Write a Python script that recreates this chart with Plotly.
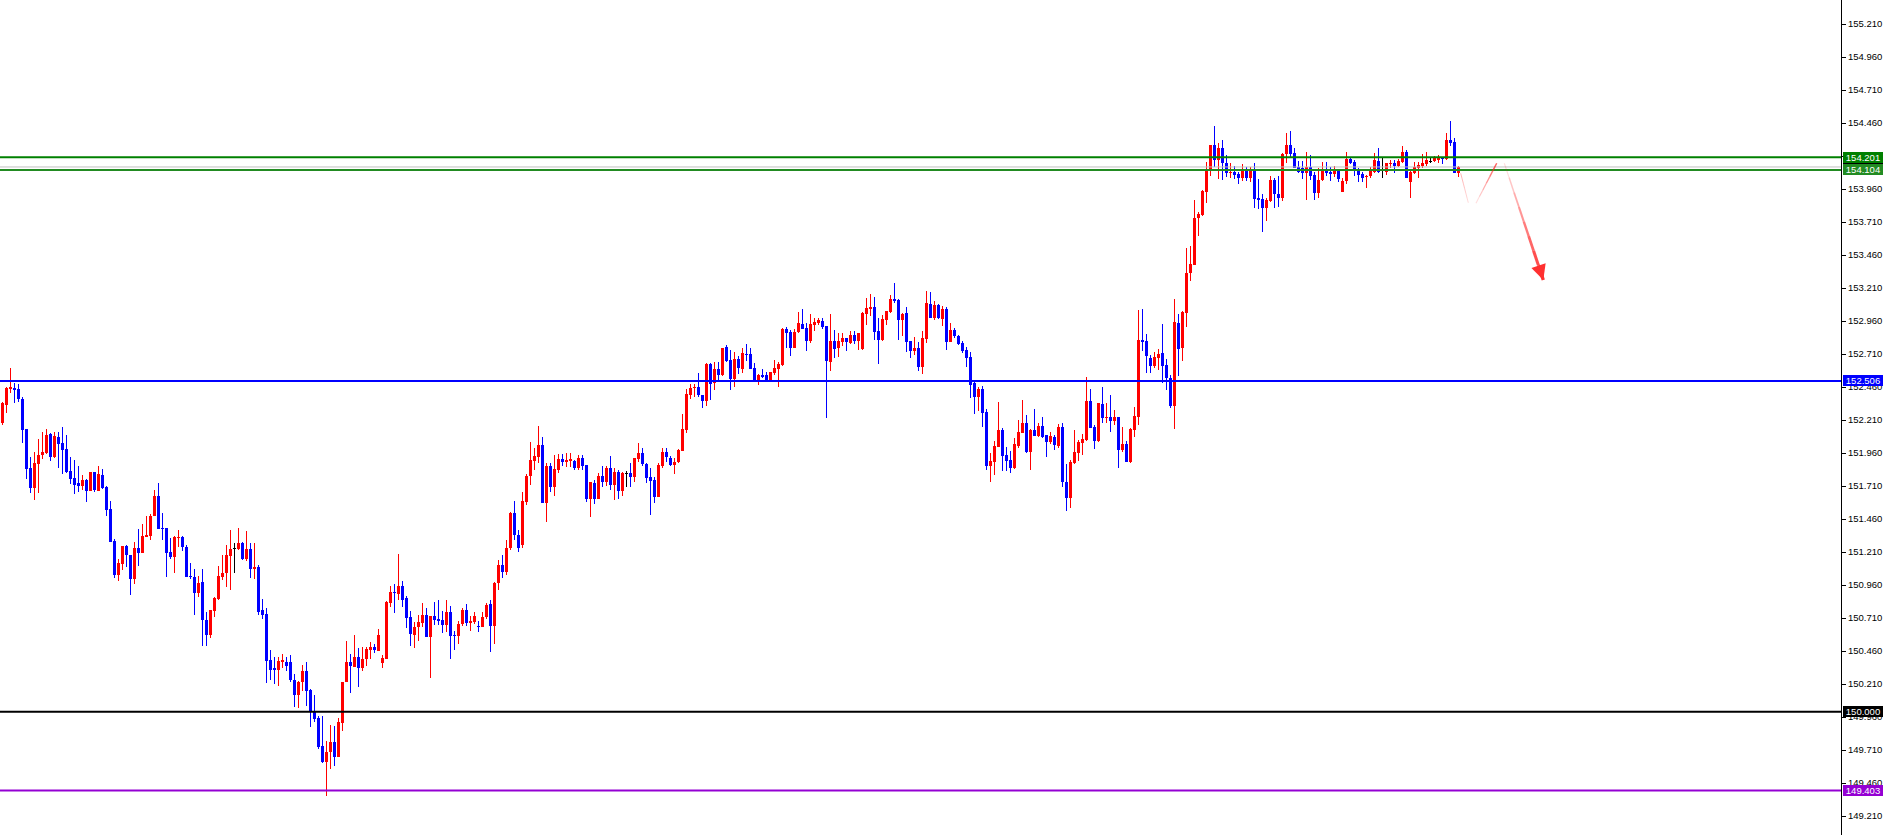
import plotly.graph_objects as go

# ---------------- data ----------------
opens = [152.187,152.324,152.445,152.452,152.445,152.369,152.142,151.846,151.695,151.877,
151.945,151.960,152.104,151.930,152.081,152.036,151.991,151.823,151.770,151.733,
151.710,151.756,151.672,151.816,151.672,151.793,151.703,151.536,151.294,151.036,
151.119,151.256,151.187,151.006,151.241,151.203,151.324,151.331,151.483,151.634,
151.392,151.392,151.210,151.172,151.316,151.324,151.248,151.028,151.021,150.900,
150.983,150.695,150.581,150.763,150.854,151.021,151.051,151.180,151.233,151.233,
151.278,151.157,151.233,151.082,151.097,150.771,150.741,150.392,150.331,150.316,
150.377,150.377,150.377,150.240,150.127,150.225,150.309,150.165,149.998,149.953,
149.741,149.619,149.695,149.771,149.657,149.915,150.225,150.377,150.339,150.415,
150.331,150.400,150.468,150.491,150.460,150.369,150.400,150.824,150.907,150.892,
150.953,150.862,150.718,150.581,150.642,150.672,150.733,150.566,150.725,150.703,
150.695,150.657,150.756,150.581,150.574,150.665,150.771,150.672,150.680,150.650,
150.642,150.718,150.816,150.650,150.975,151.112,151.059,151.241,151.506,151.339,
151.263,151.589,151.786,151.899,151.930,152.021,151.581,151.861,151.703,151.831,
151.915,151.892,151.899,151.899,151.846,151.922,151.869,151.612,151.733,151.612,
151.786,151.740,151.846,151.718,151.816,151.672,151.808,151.808,151.778,151.915,
151.960,151.877,151.778,151.756,151.627,151.861,151.968,151.922,151.869,151.892,
151.975,152.134,152.400,152.452,152.460,152.400,152.354,152.634,152.490,152.597,
152.551,152.763,152.665,152.521,152.672,152.597,152.710,152.710,152.604,152.513,
152.551,152.551,152.513,152.566,152.597,152.627,152.899,152.877,152.756,152.877,
152.937,152.907,152.809,152.930,152.945,152.960,152.922,152.650,152.809,152.756,
152.801,152.831,152.794,152.854,152.809,152.748,153.013,153.051,153.066,152.884,
152.816,152.968,153.028,153.127,153.119,152.968,153.021,152.809,152.733,152.756,
152.612,152.824,153.089,152.983,153.081,152.975,153.051,152.801,152.892,152.846,
152.794,152.741,152.688,152.490,152.384,152.445,152.271,151.861,151.892,152.006,
152.134,151.945,151.907,151.846,152.013,152.111,152.187,151.968,152.134,152.089,
152.165,152.096,152.043,152.081,152.013,152.157,151.740,151.619,151.884,151.960,
152.036,152.059,152.354,152.157,152.051,152.331,152.225,152.233,152.203,152.233,
151.983,152.028,151.892,152.134,152.233,152.816,152.809,152.680,152.619,152.680,
152.718,152.627,152.528,152.316,152.945,152.756,153.021,153.324,153.384,153.740,
153.763,153.937,154.104,154.293,154.180,154.271,154.157,154.081,154.089,154.074,
154.043,154.104,154.043,154.104,153.892,153.884,153.816,153.869,154.028,153.922,
153.892,154.225,154.293,154.233,154.127,154.119,154.081,154.127,154.066,153.930,
154.028,154.104,154.089,154.074,154.097,153.937,154.021,154.187,154.165,154.104,
154.074,154.051,154.059,154.089,154.172,154.097,154.089,154.149,154.157,154.134,
154.165,154.241,154.013,154.081,154.119,154.134,154.149,154.172,154.172,154.180,
154.195,154.187,154.331,154.316,154.081]

highs = [152.347,152.460,152.604,152.490,152.483,152.384,152.142,151.930,151.968,152.066,
152.119,152.142,152.111,152.119,152.119,152.157,152.096,151.930,151.907,151.861,
151.793,151.763,151.816,151.816,151.861,151.839,151.710,151.596,151.309,151.157,
151.256,151.263,151.187,151.286,151.385,151.422,151.483,151.498,151.680,151.733,
151.506,151.392,151.316,151.331,151.377,151.331,151.263,151.127,151.082,151.028,
151.082,150.756,150.771,150.869,151.104,151.187,151.263,151.377,151.278,151.392,
151.286,151.369,151.278,151.278,151.112,150.854,150.786,150.468,150.415,150.415,
150.438,150.415,150.430,150.286,150.233,150.354,150.377,150.172,150.127,149.968,
149.968,149.778,149.899,149.892,149.953,150.225,150.536,150.438,150.581,150.483,
150.491,150.491,150.528,150.513,150.627,150.430,150.839,150.953,150.968,151.195,
150.990,150.877,150.763,150.680,150.733,150.824,150.786,150.725,150.831,150.847,
150.763,150.847,150.801,150.612,150.688,150.786,150.816,150.725,150.756,150.688,
150.756,150.824,150.847,150.983,151.150,151.187,151.301,151.513,151.596,151.377,
151.665,151.801,152.043,151.998,152.165,152.081,151.884,151.884,151.945,151.953,
151.953,151.960,151.960,151.907,151.945,151.945,151.869,151.740,151.756,151.808,
151.861,151.861,151.937,151.846,151.831,151.816,151.823,151.884,151.922,152.036,
151.998,151.884,151.846,151.778,151.884,151.998,151.998,151.937,151.922,151.991,
152.256,152.445,152.483,152.483,152.566,152.400,152.642,152.642,152.650,152.650,
152.756,152.778,152.741,152.725,152.695,152.756,152.786,152.756,152.642,152.559,
152.597,152.574,152.574,152.665,152.650,152.907,152.915,152.892,152.899,153.028,
153.051,152.945,153.013,152.983,152.983,152.983,152.922,153.013,152.892,152.869,
152.869,152.831,152.884,152.884,152.869,153.028,153.134,153.165,153.142,152.983,
153.006,153.036,153.157,153.248,153.127,153.021,153.066,152.809,152.839,152.801,
152.884,153.187,153.180,153.112,153.089,153.074,153.066,152.945,152.907,152.854,
152.809,152.763,152.725,152.498,152.460,152.468,152.293,151.960,152.051,152.347,
152.149,152.006,151.975,152.074,152.210,152.362,152.248,152.142,152.293,152.187,
152.233,152.096,152.119,152.096,152.180,152.187,151.877,151.907,152.134,152.059,
152.104,152.536,152.445,152.172,152.339,152.460,152.339,152.400,152.286,152.233,
152.157,152.051,152.149,152.309,153.044,153.051,152.862,152.703,152.725,152.748,
152.937,152.672,152.551,153.127,153.013,153.036,153.513,153.528,153.877,153.786,
153.953,154.165,154.293,154.437,154.309,154.331,154.218,154.157,154.134,154.089,
154.149,154.127,154.127,154.157,154.036,153.922,153.892,154.059,154.043,154.059,
154.233,154.384,154.399,154.271,154.172,154.172,154.241,154.218,154.089,154.119,
154.165,154.165,154.127,154.134,154.104,154.043,154.241,154.203,154.180,154.119,
154.089,154.066,154.127,154.233,154.271,154.195,154.157,154.180,154.180,154.187,
154.286,154.256,154.112,154.165,154.165,154.225,154.241,154.195,154.210,154.218,
154.203,154.384,154.475,154.346,154.134]

lows = [152.172,152.263,152.414,152.339,152.347,152.036,151.763,151.657,151.604,151.657,
151.915,151.953,151.899,151.922,151.846,151.801,151.808,151.725,151.650,151.665,
151.680,151.589,151.672,151.665,151.672,151.687,151.483,151.286,151.013,150.990,
151.074,151.097,150.884,150.968,151.104,151.203,151.324,151.301,151.483,151.385,
151.301,151.021,151.157,151.051,151.248,151.218,151.021,151.006,150.733,150.869,
150.498,150.498,150.559,150.718,150.847,150.998,150.945,150.922,151.051,151.225,
151.150,151.142,151.013,151.006,150.733,150.703,150.218,150.240,150.210,150.195,
150.331,150.309,150.225,150.036,150.028,150.157,150.043,149.884,149.922,149.718,
149.612,149.362,149.566,149.589,149.657,149.854,150.225,150.142,150.339,150.187,
150.309,150.347,150.400,150.445,150.460,150.331,150.400,150.793,150.748,150.847,
150.793,150.634,150.498,150.483,150.536,150.642,150.566,150.256,150.657,150.657,
150.597,150.604,150.400,150.468,150.513,150.650,150.650,150.612,150.665,150.604,
150.642,150.703,150.453,150.513,150.922,151.013,151.036,151.225,151.301,151.210,
151.241,151.566,151.718,151.831,151.884,151.581,151.437,151.665,151.634,151.808,
151.861,151.854,151.854,151.831,151.831,151.831,151.589,151.475,151.574,151.612,
151.703,151.710,151.680,151.604,151.612,151.634,151.703,151.703,151.740,151.892,
151.861,151.733,151.490,151.581,151.627,151.846,151.892,151.861,151.801,151.884,
151.975,152.111,152.369,152.384,152.384,152.301,152.316,152.362,152.437,152.513,
152.543,152.650,152.437,152.460,152.559,152.566,152.657,152.597,152.506,152.475,
152.528,152.498,152.498,152.551,152.460,152.619,152.756,152.695,152.756,152.869,
152.899,152.733,152.794,152.884,152.930,152.899,152.225,152.581,152.680,152.688,
152.771,152.733,152.786,152.786,152.741,152.741,152.930,152.998,152.816,152.634,
152.809,152.930,153.021,153.097,152.816,152.846,152.725,152.680,152.703,152.581,
152.559,152.794,152.983,152.968,152.975,152.922,152.741,152.801,152.831,152.778,
152.718,152.612,152.377,152.256,152.278,152.157,151.831,151.740,151.793,152.006,
151.823,151.823,151.808,151.839,151.998,152.111,151.960,151.831,152.089,152.081,
152.074,151.930,152.028,151.983,151.998,151.703,151.521,151.543,151.877,151.899,
151.945,152.051,152.149,151.991,152.043,152.187,152.187,152.119,152.172,151.846,
151.968,151.892,151.884,152.081,152.172,152.733,152.566,152.566,152.604,152.589,
152.490,152.437,152.301,152.142,152.543,152.657,152.915,153.263,153.384,153.604,
153.756,153.854,154.059,154.127,154.036,154.028,154.051,154.043,154.036,153.998,
154.021,154.021,154.013,153.816,153.809,153.634,153.718,153.862,153.816,153.824,
153.869,154.157,154.203,154.119,154.081,154.036,153.877,154.028,153.877,153.892,
154.021,154.059,154.021,154.051,154.013,153.937,153.998,154.149,154.059,154.013,
154.013,153.968,154.043,154.081,154.081,154.043,154.066,154.119,154.081,154.127,
154.157,154.043,153.892,154.074,154.043,154.119,154.134,154.157,154.165,154.157,
154.149,154.180,154.286,154.081,154.051]

closes = [152.339,152.452,152.460,152.437,152.369,152.134,151.839,151.695,151.884,151.945,
151.968,152.096,151.930,152.089,152.028,151.983,151.816,151.763,151.718,151.710,
151.756,151.672,151.816,151.680,151.801,151.695,151.528,151.286,151.036,151.127,
151.256,151.187,151.006,151.241,151.203,151.331,151.339,151.483,151.634,151.385,
151.385,151.203,151.172,151.324,151.324,151.248,151.021,151.021,150.900,150.975,
150.695,150.581,150.771,150.862,151.028,151.051,151.187,151.233,151.233,151.278,
151.157,151.233,151.082,151.097,150.756,150.733,150.384,150.316,150.316,150.384,
150.392,150.347,150.240,150.127,150.225,150.309,150.157,149.998,149.945,149.733,
149.619,149.695,149.771,149.657,149.922,150.225,150.377,150.347,150.415,150.331,
150.400,150.475,150.491,150.468,150.581,150.407,150.831,150.907,150.900,150.953,
150.847,150.710,150.589,150.642,150.680,150.733,150.566,150.725,150.695,150.688,
150.657,150.756,150.574,150.574,150.665,150.771,150.672,150.688,150.725,150.642,
150.718,150.809,150.650,150.975,151.112,151.059,151.241,151.506,151.339,151.241,
151.596,151.786,151.907,151.937,152.021,151.581,151.861,151.703,151.839,151.915,
151.892,151.907,151.915,151.846,151.922,151.861,151.612,151.740,151.612,151.786,
151.740,151.846,151.718,151.816,151.672,151.808,151.808,151.778,151.922,151.960,
151.877,151.770,151.748,151.627,151.869,151.968,151.930,151.869,151.892,151.983,
152.142,152.407,152.452,152.460,152.400,152.354,152.634,152.483,152.597,152.551,
152.756,152.657,152.521,152.672,152.604,152.718,152.703,152.597,152.506,152.551,
152.536,152.513,152.574,152.604,152.634,152.899,152.869,152.756,152.877,152.945,
152.899,152.809,152.937,152.953,152.968,152.915,152.657,152.809,152.748,152.809,
152.831,152.801,152.854,152.809,152.869,153.021,153.059,153.066,152.877,152.816,
152.975,153.036,153.127,153.112,152.968,153.013,152.801,152.733,152.756,152.612,
152.831,153.097,152.983,153.081,152.983,153.051,152.801,152.892,152.846,152.786,
152.733,152.680,152.475,152.384,152.445,152.263,151.861,151.899,152.013,152.134,
151.937,151.899,151.846,152.028,152.119,152.187,151.968,152.134,152.089,152.165,
152.081,152.043,152.089,152.021,152.157,151.740,151.619,151.892,151.968,152.043,
152.066,152.354,152.149,152.051,152.339,152.225,152.233,152.203,152.233,151.983,
152.028,151.892,152.142,152.240,152.816,152.801,152.695,152.619,152.688,152.710,
152.619,152.528,152.316,152.953,152.748,153.028,153.324,153.392,153.740,153.771,
153.945,154.104,154.293,154.180,154.271,154.157,154.081,154.089,154.066,154.043,
154.104,154.043,154.104,153.884,153.877,153.816,153.877,154.028,153.922,153.892,
154.225,154.293,154.225,154.119,154.089,154.081,154.127,154.059,153.930,154.028,
154.104,154.081,154.074,154.097,154.036,154.021,154.187,154.157,154.097,154.066,
154.043,154.059,154.097,154.180,154.089,154.097,154.157,154.157,154.134,154.172,
154.241,154.043,154.089,154.127,154.142,154.157,154.180,154.172,154.195,154.195,
154.187,154.331,154.309,154.081,154.127]

level_prices = [154.201, 154.104, 152.506, 150.000, 149.403]

# hand-drawn forecast path (bar index, price): three strokes
path_x = [364.55, 366.45, 368.375, 373.55, 375.45, 385.2]
path_y = [154.079, 153.856, 153.852, 154.155, 154.155, 153.271]

tick_start, tick_step = 149.210, 0.25

# ---------------- styling / layout ----------------
UP, DOWN, FLAT = "#FF0000", "#0000FF", "#000000"
W, H = 1885, 835
PLOT_W = 1841
PX_PER_BAR = 4.0
FIRST_CENTER = 2.5
PX_PER_PRICE = 132.0
Y_TOP = 155.21 + 24 / PX_PER_PRICE
Y_BOT = Y_TOP - H / PX_PER_PRICE

n = len(opens)
idx = list(range(n))
colors = [UP if c > o else (DOWN if c < o else FLAT) for o, c in zip(opens, closes)]
min_h = 1.0 / PX_PER_PRICE
body_base, body_h = [], []
for o, c in zip(opens, closes):
    lo, hi = min(o, c), max(o, c)
    if hi - lo < min_h:
        mid = (hi + lo) / 2
        lo, hi = mid - min_h / 2, mid + min_h / 2
    body_base.append(lo)
    body_h.append(hi - lo)

fig = go.Figure()
fig.add_trace(go.Bar(x=idx, base=lows, y=[h - l for h, l in zip(highs, lows)],
                     width=0.24, marker=dict(color=colors, line=dict(width=0)),
                     hoverinfo="skip", showlegend=False))
fig.add_trace(go.Bar(x=idx, base=body_base, y=body_h,
                     width=0.75, marker=dict(color=colors, line=dict(width=0)),
                     hoverinfo="skip", showlegend=False))

level_colors = ["#008000", "#228B22", "#0000FF", "#000000", "#9400D3"]
shapes = []
# bid line (last close)
shapes.append(dict(type="line", xref="paper", yref="y", x0=0, x1=1,
                   y0=closes[-1], y1=closes[-1], line=dict(color="#C0C0C0", width=1)))
for p, col in zip(level_prices, level_colors):
    shapes.append(dict(type="line", xref="paper", yref="y", x0=0, x1=1, y0=p, y1=p,
                       line=dict(color=col, width=2)))

# forecast strokes drawn with a fading gradient
def stroke(x0, y0, x1, y1, a0, a1, w0, w1, pieces=6):
    for k in range(pieces):
        t0, t1 = k / pieces, (k + 1) / pieces
        a = a0 + (a1 - a0) * (k + 0.5) / pieces
        w = w0 + (w1 - w0) * (k + 0.5) / pieces
        shapes.append(dict(type="line", xref="x", yref="y",
                           x0=x0 + (x1 - x0) * t0, y0=y0 + (y1 - y0) * t0,
                           x1=x0 + (x1 - x0) * t1, y1=y0 + (y1 - y0) * t1,
                           line=dict(color=f"rgba(255,30,30,{a:.2f})", width=w)))

stroke(path_x[0], path_y[0], path_x[1], path_y[1], 0.35, 0.15, 1, 1)
stroke(path_x[2], path_y[2], path_x[3], path_y[3], 0.1, 0.75, 1, 1.5)
stroke(path_x[4], path_y[4], path_x[5], path_y[5], 0.1, 0.95, 1, 3.5, pieces=8)

annotations = []
# arrow head at the end of the last stroke
ax0 = path_x[4] + (path_x[5] - path_x[4]) * 0.9
ay0 = path_y[4] + (path_y[5] - path_y[4]) * 0.9
annotations.append(dict(x=path_x[5], y=path_y[5], ax=ax0, ay=ay0, xref="x", yref="y",
                        axref="x", ayref="y", text="", showarrow=True, arrowhead=2,
                        arrowsize=1.0, arrowwidth=3, arrowcolor="#FF3030"))

# price labels on the axis
def label(price, bg):
    annotations.append(dict(xref="paper", yref="y", x=1, y=price, xanchor="left",
                            yanchor="middle", xshift=2, showarrow=False,
                            text=f"{price:.3f}", bgcolor=bg, borderpad=1, borderwidth=0,
                            width=38, height=9, align="center",
                            font=dict(family="Liberation Sans", size=9.5, color="#FFFFFF")))

label(closes[-1], "#000000")
for p, col in zip(level_prices, level_colors):
    label(p, col)

fig.update_layout(
    width=W, height=H, template="none",
    margin=dict(l=0, r=W - PLOT_W, t=0, b=0, pad=0),
    paper_bgcolor="#FFFFFF", plot_bgcolor="#FFFFFF",
    barmode="overlay", bargap=0, showlegend=False,
    shapes=shapes, annotations=annotations,
    xaxis=dict(visible=False, showgrid=False, zeroline=False,
               range=[-FIRST_CENTER / PX_PER_BAR, (PLOT_W - FIRST_CENTER) / PX_PER_BAR],
               automargin=False),
    yaxis=dict(side="right", range=[Y_BOT, Y_TOP], showgrid=False, zeroline=False,
               showline=True, linecolor="#000000", linewidth=1, mirror=False,
               ticks="outside", ticklen=4, tickwidth=1, tickcolor="#000000",
               tickmode="linear", tick0=tick_start, dtick=tick_step, tickformat=".3f",
               tickfont=dict(family="Liberation Sans", size=9.5, color="#000000"),
               automargin=False),
)

fig.write_html("out.html", config={"displayModeBar": False, "staticPlot": True},
               post_script="document.body.style.margin='0';document.body.style.overflow='hidden';")
